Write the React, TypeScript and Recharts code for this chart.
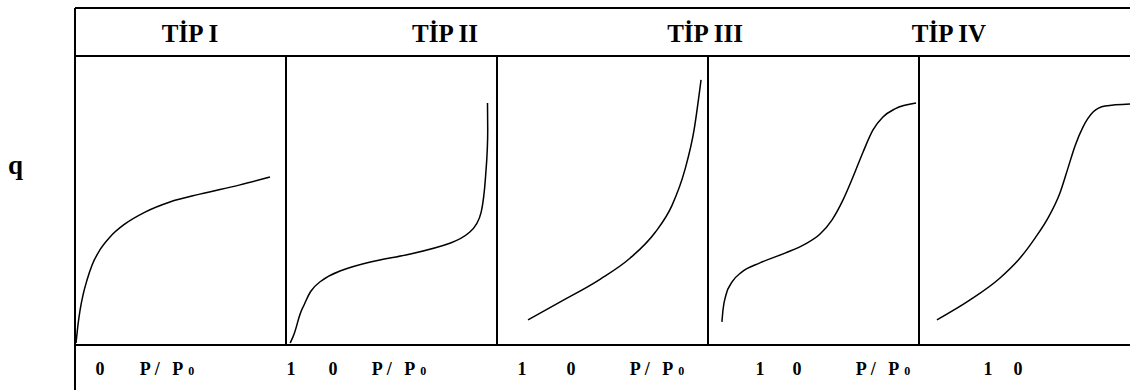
import React from 'react';
import { ComposedChart, Line, XAxis, YAxis, ReferenceLine, ReferenceDot } from 'recharts';

const FONT = '"Liberation Serif", "Times New Roman", serif';

// Header labels and where they sit along the shared x scale (panel index + P/P0)
const TYPE_LABELS = ['TİP I', 'TİP II', 'TİP III', 'TİP IV'];
const TYPE_LABEL_POS = [0.545, 1.754, 2.986, 4.142];

// Bottom axis labels
const AXIS_LABELS = ['0', 'P/P0', '1', '0', 'P/P0', '1', '0', 'P/P0', '1', '0', 'P/P0', '1', '0'];
const AXIS_LABEL_POS = [0.118, 0.436, 1.024, 1.223, 1.536, 2.118, 2.351, 2.758, 3.246, 3.422, 3.829, 4.327, 4.469];

const PANEL_DIVIDERS = [1, 2, 3, 4];
const HEADER_Q = 100;
const HEADER_LABEL_Q = 108;
const Q_MAX = 116.6;

// Isotherm curves: relative pressure P/P0 within each panel, and adsorbed amount q
const TYPE_I_P = [0.005, 0.014, 0.024, 0.038, 0.057, 0.081, 0.118, 0.166, 0.237, 0.332, 0.45, 0.592, 0.782, 0.924];
const TYPE_I_Q = [0.7, 6.9, 12.1, 17.3, 22.5, 27.7, 32.9, 37.4, 41.9, 46.0, 49.5, 52.2, 55.4, 58.1];

const TYPE_II_P = [0.02, 0.033, 0.08, 0.16, 0.256, 0.4, 0.59, 0.78, 0.87, 0.925, 0.948, 0.956, 0.955];
const TYPE_II_Q = [0.7, 2.8, 13, 21.8, 25.6, 28.7, 31.5, 35.3, 39, 46, 60.5, 74.4, 83.7];

const TYPE_III_P = [0.147, 0.3, 0.49, 0.63, 0.75, 0.83, 0.89, 0.934, 0.967];
const TYPE_III_Q = [8.7, 14.9, 22.8, 30, 39, 48.4, 60.5, 74.4, 91.7];

const TYPE_IV_P = [0.066, 0.071, 0.085, 0.114, 0.161, 0.246, 0.365, 0.46, 0.531, 0.588, 0.64, 0.687, 0.735, 0.782, 0.829, 0.886, 0.986];
const TYPE_IV_Q = [8.0, 12.1, 17.3, 21.8, 25.3, 28.4, 31.8, 34.9, 38.4, 43.3, 50.2, 58.1, 66.8, 74.4, 78.9, 81.7, 83.7];

const TYPE_V_P = [0.085, 0.242, 0.384, 0.479, 0.55, 0.611, 0.668, 0.706, 0.739, 0.777, 0.825, 0.882, 1.0];
const TYPE_V_Q = [8.7, 15.6, 23.2, 30.1, 37, 43.9, 52.6, 61.2, 68.8, 75.4, 80.6, 82.7, 83.4];

const CURVES_P = [TYPE_I_P, TYPE_II_P, TYPE_III_P, TYPE_IV_P, TYPE_V_P];
const CURVES_Q = [TYPE_I_Q, TYPE_II_Q, TYPE_III_Q, TYPE_IV_Q, TYPE_V_Q];
const CURVE_TYPES = ['monotoneX', 'monotoneY', 'monotoneX', 'monotoneX', 'monotoneX'];

const curves = CURVES_P.map((ps, i) => ps.map((p, j) => ({ x: i + p, q: CURVES_Q[i][j] })));

const frame = { stroke: '#000', strokeWidth: 2 };

const BottomTick = (props: any) => {
  const { x, y, index } = props;
  const label = AXIS_LABELS[index];
  const style = { fontFamily: FONT, fontWeight: 700, fill: '#000' } as any;
  if (label === 'P/P0') {
    return (
      <text x={x} y={y + 22} textAnchor="middle" style={{ ...style, fontSize: 18, letterSpacing: 4 }}>
        P/ P
        <tspan dx={1} style={{ fontSize: 12, letterSpacing: 0 }}>0</tspan>
      </text>
    );
  }
  return (
    <text x={x} y={y + 22} textAnchor="middle" style={{ ...style, fontSize: 18 }}>
      {label}
    </text>
  );
};

export default function App() {
  return (
    <div style={{ position: 'absolute', left: 0, top: 0, background: '#fff' }}>
      <ComposedChart width={1130} height={390} margin={{ top: 8, right: 0, bottom: 0, left: 0 }}>
        <XAxis
          xAxisId="b"
          type="number"
          dataKey="x"
          domain={[0, 5]}
          ticks={AXIS_LABEL_POS}
          interval={0}
          height={45}
          axisLine={frame}
          tickLine={false}
          tick={<BottomTick />}
          allowDataOverflow
        />
        <YAxis
          yAxisId="y"
          type="number"
          domain={[0, Q_MAX]}
          width={75}
          tick={false}
          axisLine={frame}
          allowDataOverflow
          label={{
            value: 'q',
            position: 'insideLeft',
            offset: 8,
            dy: -12,
            style: { fontFamily: FONT, fontWeight: 700, fontSize: 27, fill: '#000' },
          }}
        />
        <ReferenceLine xAxisId="b" yAxisId="y" y={Q_MAX} stroke="#000" strokeWidth={2} ifOverflow="visible" />
        <ReferenceLine xAxisId="b" yAxisId="y" y={HEADER_Q} stroke="#000" strokeWidth={2} />
        {PANEL_DIVIDERS.map((d) => (
          <ReferenceLine
            key={d}
            xAxisId="b"
            yAxisId="y"
            segment={[{ x: d, y: 0 }, { x: d, y: HEADER_Q }]}
            stroke="#000"
            strokeWidth={2}
          />
        ))}
        <ReferenceLine
          xAxisId="b"
          yAxisId="y"
          segment={[{ x: 0, y: -15.6 }, { x: 0, y: 0 }]}
          stroke="#000"
          strokeWidth={2}
          ifOverflow="visible"
        />
        {TYPE_LABELS.map((t, i) => (
          <ReferenceDot
            key={t}
            xAxisId="b"
            yAxisId="y"
            x={TYPE_LABEL_POS[i]}
            y={HEADER_LABEL_Q}
            r={0}
            fill="none"
            stroke="none"
            label={{
              value: t,
              position: 'center',
              style: { fontFamily: FONT, fontWeight: 700, fontSize: 25, fill: '#000' },
            }}
          />
        ))}
        {curves.map((c, i) => (
          <Line
            key={i}
            data={c}
            xAxisId="b"
            yAxisId="y"
            dataKey="q"
            type={CURVE_TYPES[i] as any}
            stroke="#000"
            strokeWidth={1.5}
            dot={false}
            activeDot={false}
            isAnimationActive={false}
          />
        ))}
      </ComposedChart>
    </div>
  );
}
